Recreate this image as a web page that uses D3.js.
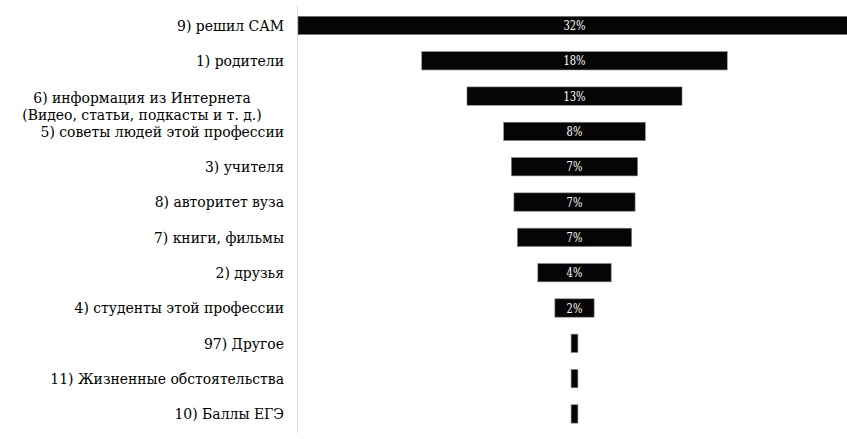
<!DOCTYPE html>
<html>
<head>
<meta charset="utf-8">
<script src="https://cdn.jsdelivr.net/npm/d3@7"></script>
<style>
  body { margin: 0; background: #fff; }
</style>
</head>
<body>
<svg id="chart"></svg>
<script>
// Data
const categories = [
  "9) решил САМ",
  "1) родители",
  "6) информация из Интернета\n(Видео, статьи, подкасты и т. д.)",
  "5) советы людей этой профессии",
  "3) учителя",
  "8) авторитет вуза",
  "7) книги, фильмы",
  "2) друзья",
  "4) студенты этой профессии",
  "97) Другое",
  "11) Жизненные обстоятельства",
  "10) Баллы ЕГЭ"
];
const values = [32.4, 17.9, 12.6, 8.3, 7.4, 7.1, 6.7, 4.3, 2.3, 0.4, 0.4, 0.4];
const pctLabels = ["32%", "18%", "13%", "8%", "7%", "7%", "7%", "4%", "2%", "", "", ""];

const width = 847, height = 439;
const axisX = 297.5;
const centerX = 574.5;
const serif = "'DejaVu Serif Condensed', 'DejaVu Serif', serif";

const svg = d3.select("#chart")
    .attr("width", width)
    .attr("height", height);

// Scales
const y = d3.scaleBand()
    .domain(categories)
    .range([7.8, 431.6])
    .paddingInner(0.48)
    .paddingOuter(0.24);

const w = d3.scaleLinear()
    .domain([0, values[0]])
    .range([0, 2 * (centerX - axisX - 0.5)]);

// axis line
svg.append("line")
    .attr("x1", axisX).attr("x2", axisX)
    .attr("y1", 5).attr("y2", 433)
    .attr("stroke", "#d9d9d9")
    .attr("stroke-width", 1);

const rows = svg.selectAll(".row")
    .data(categories.map((c, i) => ({cat: c, v: values[i], lab: pctLabels[i]})))
  .enter().append("g")
    .attr("class", "row");

rows.append("rect")
    .attr("x", d => centerX - w(d.v) / 2)
    .attr("y", d => y(d.cat))
    .attr("width", d => w(d.v))
    .attr("height", y.bandwidth())
    .attr("fill", "#050505")
    .attr("stroke", "#8a8a8a")
    .attr("stroke-width", 0.6);

// percent labels, squeezed a bit horizontally
rows.append("text")
    .attr("x", centerX)
    .attr("y", d => y(d.cat) + y.bandwidth() / 2)
    .attr("dy", "0.36em")
    .attr("text-anchor", "middle")
    .attr("font-family", serif)
    .attr("font-size", 13)
    .attr("fill", "#fff")
    .attr("transform", `translate(${centerX * 0.15},0) scale(0.85,1)`)
    .text(d => d.lab);

// category labels
rows.each(function(d) {
  const g = d3.select(this);
  const cy = y(d.cat) + y.bandwidth() / 2;
  const lines = d.cat.split("\n");
  lines.forEach((l, k) => {
    g.append("text")
        .attr("x", lines.length === 1 ? 284 : 142)
        .attr("y", lines.length === 1 ? cy : cy + 1 + k * 17)
        .attr("dy", "0.35em")
        .attr("text-anchor", lines.length === 1 ? "end" : "middle")
        .attr("font-family", serif)
        .attr("font-size", 15.5)
        .attr("fill", "#000")
        .text(l);
  });
});
</script>
</body>
</html>
